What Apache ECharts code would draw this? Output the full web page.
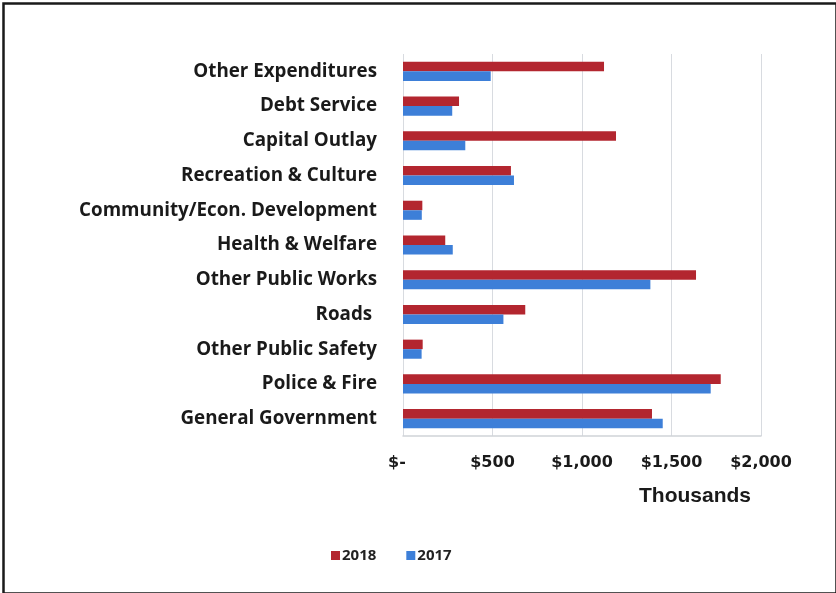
<!DOCTYPE html>
<html>
<head>
<meta charset="utf-8">
<script src="https://cdn.jsdelivr.net/npm/echarts@6/dist/echarts.min.js"></script>
<style>
  html, body { margin: 0; padding: 0; background: #fff; }
  #chart { width: 836px; height: 593px; }
</style>
</head>
<body>
<div id="chart"></div>
<script>
// Expenditures by function, in thousands of dollars (bottom to top)
const categories = [
  'General Government',
  'Police & Fire',
  'Other Public Safety',
  'Roads ',
  'Other Public Works',
  'Health & Welfare',
  'Community/Econ. Development',
  'Recreation & Culture',
  'Capital Outlay',
  'Debt Service',
  'Other Expenditures'
];
const values2018 = [1391, 1775, 110, 683, 1637, 236, 108, 603, 1190, 313, 1123];
const values2017 = [1451, 1719, 104, 561, 1382, 278, 105, 620, 348, 275, 490];
const xTicks = { min: 0, max: 2000, interval: 500 };

// Accounting-style dollar labels; zero shows as a dash, set a little to the left
function money(v) {
  if (v === 0) return '{zero|$-}';
  return '$' + v.toLocaleString('en-US');
}

const tickFont = { fontFamily: 'DejaVu Sans', fontWeight: 'bold', fontSize: 16, color: '#1a1a1a' };

const chart = echarts.init(document.getElementById('chart'), null, { renderer: 'canvas' });

chart.setOption({
  animation: false,
  backgroundColor: '#ffffff',
  graphic: [{
    type: 'rect',
    left: 1, top: 1,
    shape: { width: 833, height: 590 },
    style: { fill: 'none', stroke: '#1a1a1a', lineWidth: 2.5 },
    silent: true
  }],
  grid: { left: 403, right: 75, top: 54, bottom: 157, containLabel: false },
  legend: {
    data: ['2018', '2017'],
    bottom: 25,
    left: 326,
    itemWidth: 9,
    itemHeight: 9,
    itemGap: 30,
    icon: 'rect',
    textStyle: { fontFamily: 'Open Sans', fontWeight: 'bold', fontSize: 15, color: '#222', padding: [0, 0, 0, -3] }
  },
  xAxis: {
    type: 'value',
    min: xTicks.min,
    max: xTicks.max,
    interval: xTicks.interval,
    name: 'Thousands',
    nameLocation: 'end',
    nameGap: 0,
    nameTextStyle: {
      fontFamily: 'Liberation Sans', fontWeight: 'bold', fontSize: 21, color: '#1a1a1a',
      align: 'center', verticalAlign: 'top', padding: [50, 132, 0, 0]
    },
    axisLine: { show: true, lineStyle: { color: '#cfd3d8', width: 1.5 } },
    axisTick: { show: false },
    splitLine: { show: true, lineStyle: { color: '#d8dbe0', width: 1 } },
    axisLabel: Object.assign({
      formatter: money,
      margin: 19,
      rich: { zero: Object.assign({ padding: [0, 12, 0, 0] }, tickFont) }
    }, tickFont)
  },
  yAxis: {
    type: 'category',
    data: categories,
    axisLine: { show: false },
    axisTick: { show: false },
    splitLine: { show: false },
    axisLabel: {
      margin: 26,
      fontFamily: 'Open Sans', fontWeight: 'bold', fontSize: 18.8, color: '#1a1a1a'
    }
  },
  series: [
    {
      name: '2018',
      type: 'bar',
      data: values2018,
      barGap: '0%',
      barCategoryGap: '45%',
      itemStyle: { color: '#b3262f' }
    },
    {
      name: '2017',
      type: 'bar',
      data: values2017,
      barGap: '0%',
      barCategoryGap: '45%',
      itemStyle: { color: '#3d7fd8' }
    }
  ]
});
</script>
</body>
</html>
